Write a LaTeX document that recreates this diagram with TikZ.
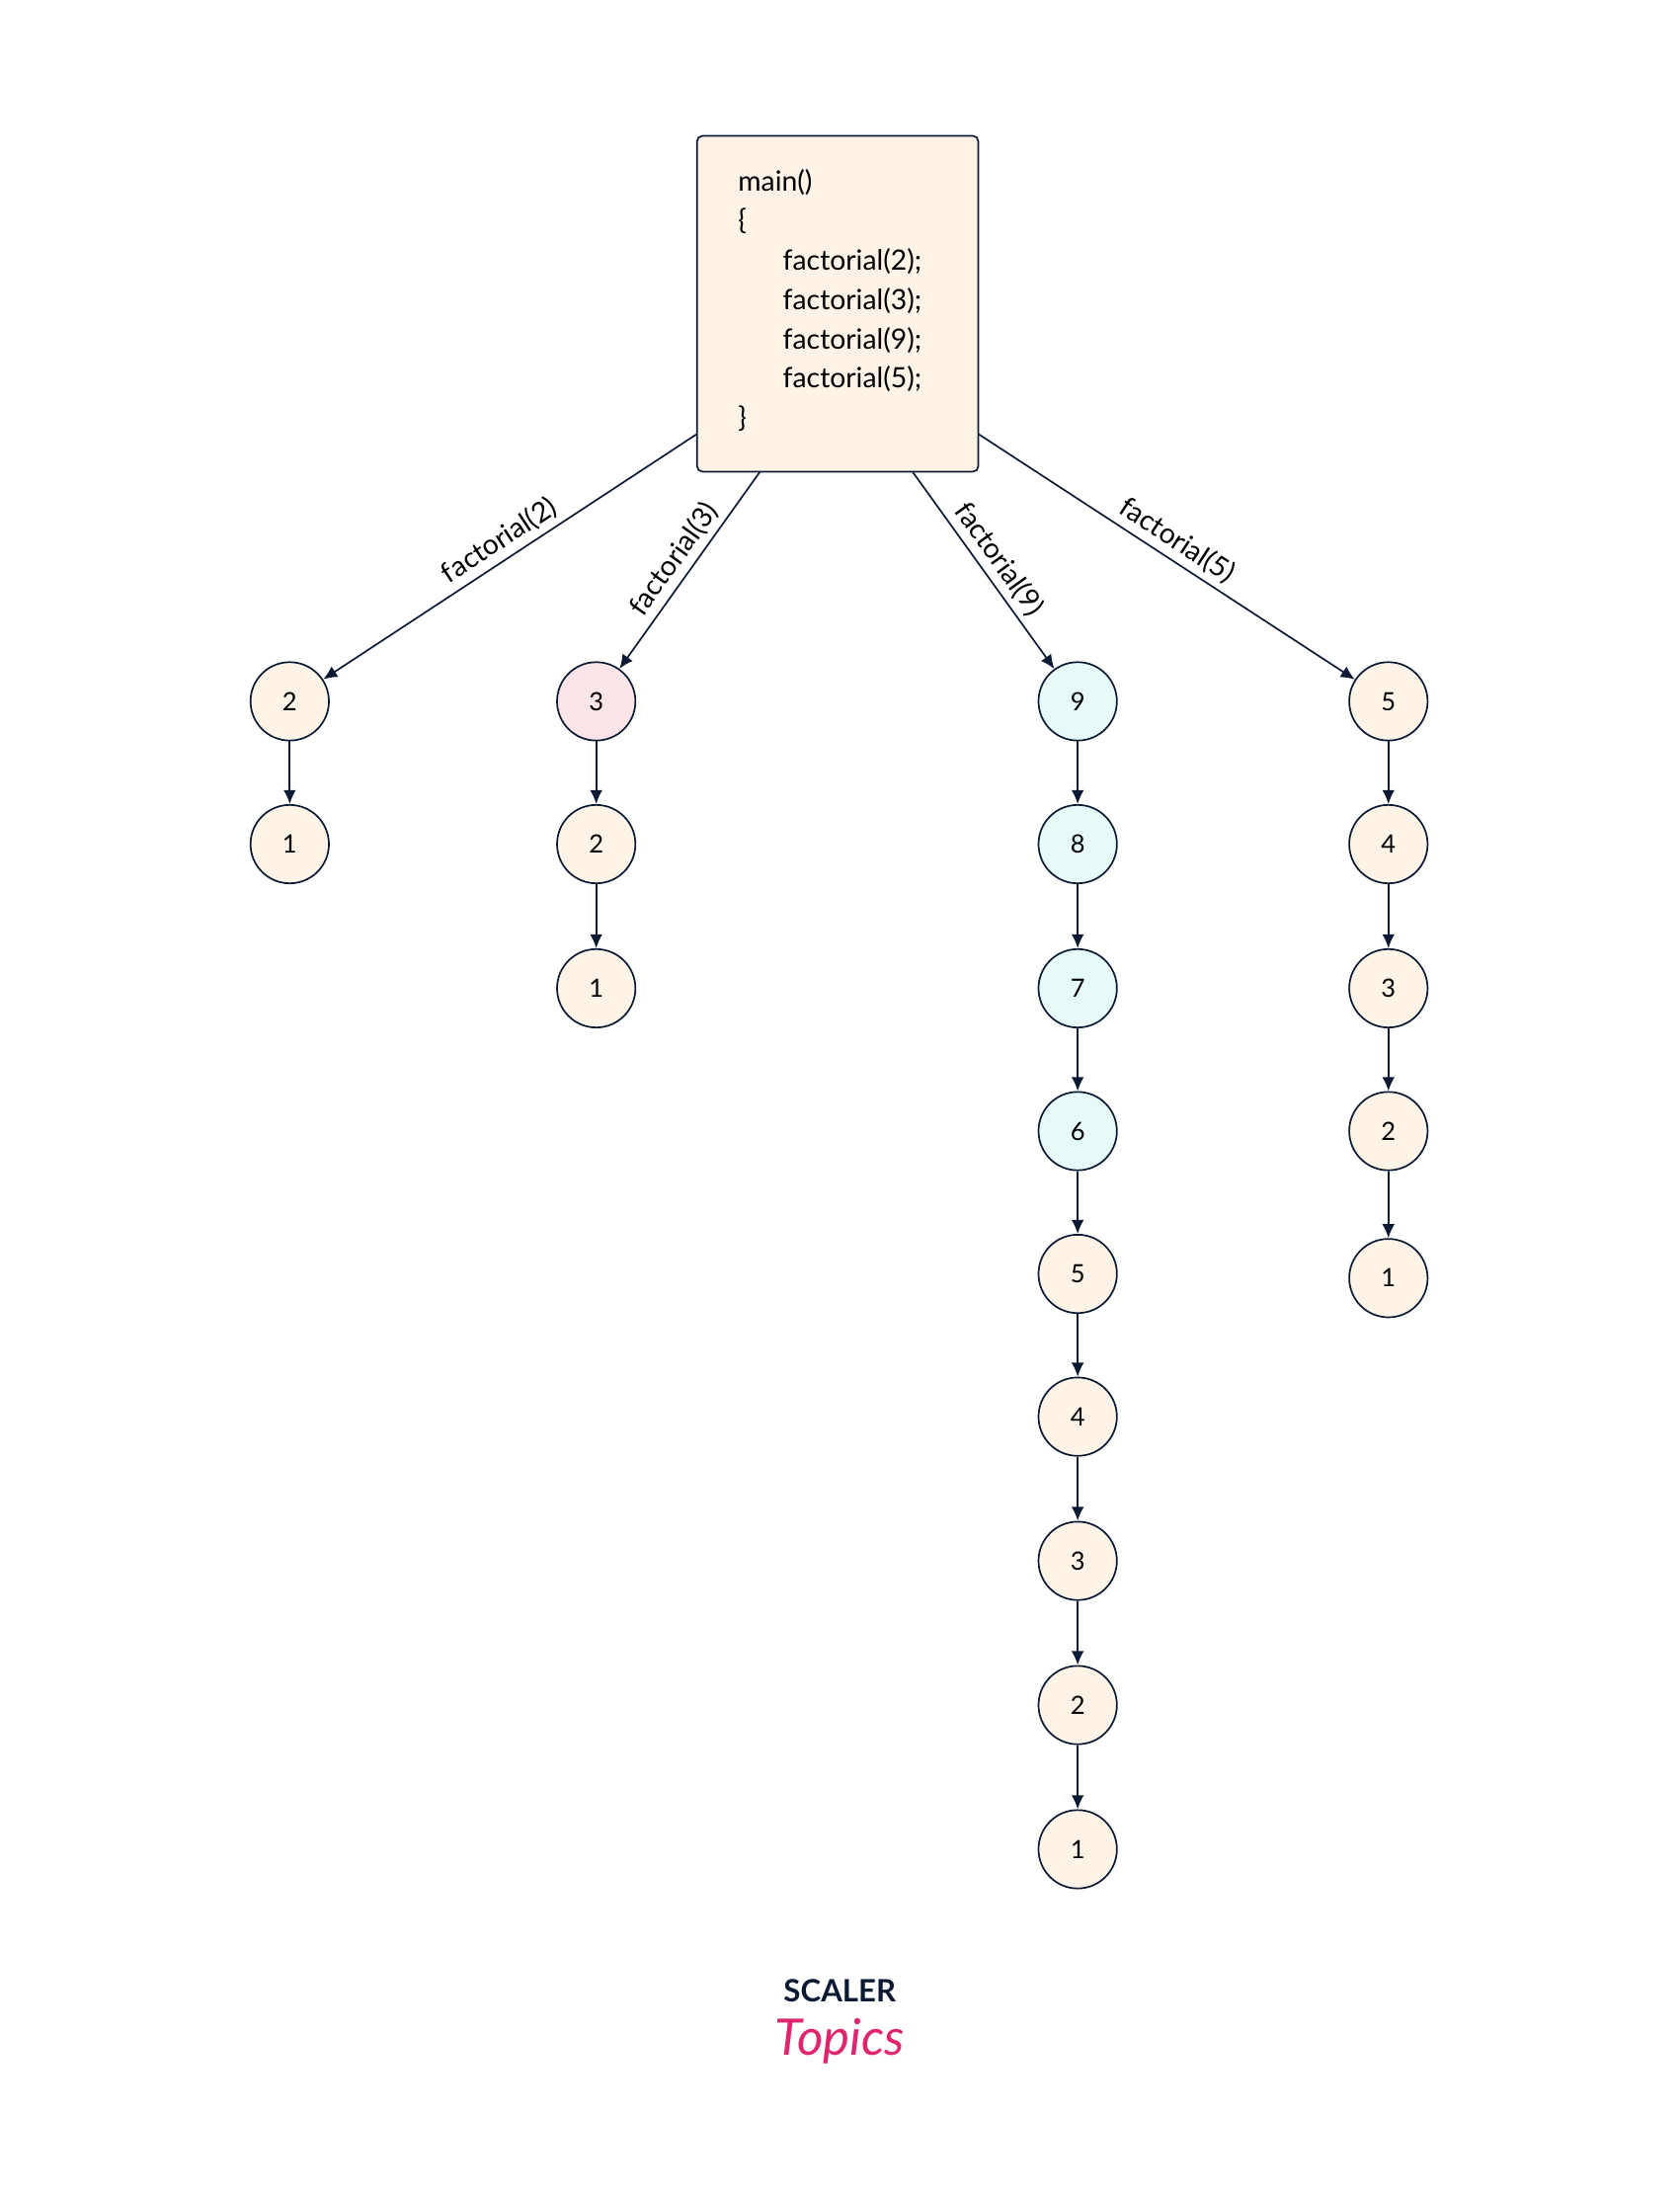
\documentclass[tikz,border=0pt]{standalone}
\usepackage{fontspec}
\setmainfont{Lato}
\usetikzlibrary{arrows.meta}
\definecolor{cream}{HTML}{FDF3E6}
\definecolor{pinkf}{HTML}{FCE4E8}
\definecolor{cyanf}{HTML}{E6FBF8}
\definecolor{navy}{HTML}{0B1A33}
\definecolor{scpink}{HTML}{E0256F}
\begin{document}
\begin{tikzpicture}[x=0.5pt,y=-0.5pt,
  num/.style={circle,draw=navy,line width=0.6pt,fill=cream,minimum size=28pt,inner sep=0pt,font=\fontsize{9}{11}\selectfont},
  arr/.style={-{Latex[length=5pt,width=4.5pt]},draw=navy,line width=0.6pt},
  lbl/.style={midway,sloped,above,font=\fontsize{10}{12}\selectfont,inner sep=2pt}]
\useasboundingbox (0,0) rectangle (1200,1568);
\node[draw=navy,line width=0.6pt,fill=cream,rounded corners=2pt,minimum width=100.5pt,minimum height=120pt,inner sep=0pt] (box) at (598.5,217) {};
\foreach \t/\xx/\yy in {main()/527/130,\{/527/158,factorial(2);/559/187,factorial(3);/559/215,factorial(9);/559/243,factorial(5);/559/271,\}/527/299}
  \node[anchor=west,inner sep=0pt,font=\fontsize{10}{12}\selectfont] at (\xx,\yy) {\t};
\coordinate (s1) at (498,310);
\coordinate (s2) at (543,337);
\coordinate (s3) at (652,337);
\coordinate (s4) at (699,310);
% column 1
\node[num] (a1) at (207,501) {2};
\node[num] (a2) at (207,603) {1};
% column 2
\node[num,fill=pinkf] (b1) at (426,501) {3};
\node[num] (b2) at (426,603) {2};
\node[num] (b3) at (426,706) {1};
% column 3
\node[num,fill=cyanf] (c1) at (770,501) {9};
\node[num,fill=cyanf] (c2) at (770,603) {8};
\node[num,fill=cyanf] (c3) at (770,706) {7};
\node[num,fill=cyanf] (c4) at (770,808) {6};
\node[num] (c5) at (770,910) {5};
\node[num] (c6) at (770,1012) {4};
\node[num] (c7) at (770,1115) {3};
\node[num] (c8) at (770,1218) {2};
\node[num] (c9) at (770,1321) {1};
% column 4
\node[num] (d1) at (992,501) {5};
\node[num] (d2) at (992,603) {4};
\node[num] (d3) at (992,706) {3};
\node[num] (d4) at (992,808) {2};
\node[num] (d5) at (992,913) {1};
\draw[arr] (s1) -- (a1) node[lbl] {factorial(2)};
\draw[arr] (s2) -- (b1) node[lbl] {factorial(3)};
\draw[arr] (s3) -- (c1) node[lbl] {factorial(9)};
\draw[arr] (s4) -- (d1) node[lbl] {factorial(5)};
\draw[arr] (a1) -- (a2);
\draw[arr] (b1) -- (b2); \draw[arr] (b2) -- (b3);
\draw[arr] (c1) -- (c2); \draw[arr] (c2) -- (c3); \draw[arr] (c3) -- (c4); \draw[arr] (c4) -- (c5);
\draw[arr] (c5) -- (c6); \draw[arr] (c6) -- (c7); \draw[arr] (c7) -- (c8); \draw[arr] (c8) -- (c9);
\draw[arr] (d1) -- (d2); \draw[arr] (d2) -- (d3); \draw[arr] (d3) -- (d4); \draw[arr] (d4) -- (d5);
\node[font=\fontsize{11}{13}\selectfont\bfseries,text=navy] (sc) at (600,1422) {SCALER};
\node[font=\fontsize{18}{20}\selectfont\itshape,text=scpink] (tp) at (600,1458) {Topics};
\end{tikzpicture}
\end{document}
